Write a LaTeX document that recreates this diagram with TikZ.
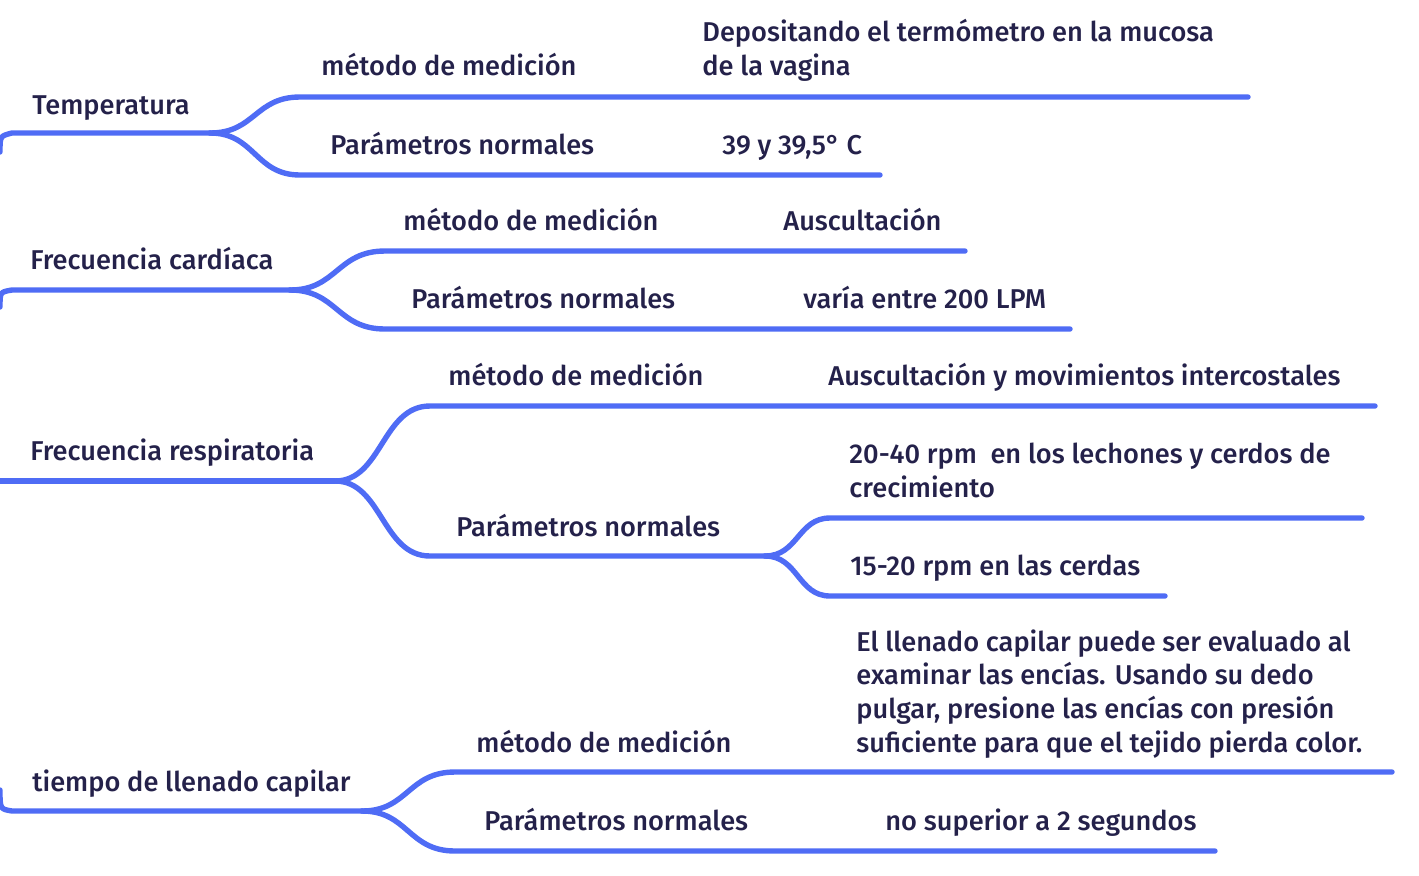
\documentclass[tikz,border=0pt]{standalone}
\usepackage{fontspec}
\setmainfont{Fira Sans}[UprightFont=* Medium]
\definecolor{azulrama}{RGB}{79,108,245}
\definecolor{tinta}{RGB}{36,33,74}

\begin{document}
\begin{tikzpicture}[line cap=round,line join=round,x=0.5pt,y=-0.5pt,
	linea/.style={draw=azulrama,line width=2.7pt},
	texto/.style={anchor=base west,inner sep=0pt,text=tinta,font=\fontsize{13.6}{16.8}\selectfont,align=left}]
		\useasboundingbox (0,0) rectangle (1419,875);
		\coordinate (tempI) at (0,152);
		\coordinate (tempA) at (12,133);
		\coordinate (tempF) at (210,133);
		\coordinate (tempMetA) at (300,97);
		\coordinate (tempMetB) at (590,97);
		\coordinate (tempMetC) at (1248,97);
		\coordinate (tempParA) at (300,175);
		\coordinate (tempParB) at (605,175);
		\coordinate (tempParC) at (880,175);
		\coordinate (fcI) at (0,307);
		\coordinate (fcA) at (12,290);
		\coordinate (fcF) at (290,290);
		\coordinate (fcMetA) at (385,251);
		\coordinate (fcMetB) at (670,251);
		\coordinate (fcMetC) at (965,251);
		\coordinate (fcParA) at (385,329);
		\coordinate (fcParB) at (690,329);
		\coordinate (fcParC) at (1070,329);
		\coordinate (frI) at (0,481);
		\coordinate (frF) at (335,481);
		\coordinate (frMetA) at (430,406);
		\coordinate (frMetB) at (715,406);
		\coordinate (frMetC) at (1375,406);
		\coordinate (frParA) at (430,556);
		\coordinate (frParB) at (765,556);
		\coordinate (frLecA) at (830,518);
		\coordinate (frLecB) at (1362,518);
		\coordinate (frCerA) at (830,596);
		\coordinate (frCerB) at (1165,596);
		\coordinate (tlcI) at (0,790);
		\coordinate (tlcA) at (12,811);
		\coordinate (tlcF) at (362,811);
		\coordinate (tlcMetA) at (455,772);
		\coordinate (tlcMetB) at (740,772);
		\coordinate (tlcMetC) at (1392,772);
		\coordinate (tlcParA) at (455,851);
		\coordinate (tlcParB) at (760,851);
		\coordinate (tlcParC) at (1215,851);
		\draw [linea] (tempI) .. controls (0,136) .. (tempA) -- (tempF);
		\draw [linea] (tempF) .. controls (255,133) and (255,97) .. (tempMetA) -- (tempMetB) -- (tempMetC);
		\draw [linea] (tempF) .. controls (255,133) and (255,175) .. (tempParA) -- (tempParB) -- (tempParC);
		\draw [linea] (fcI) .. controls (0,292) .. (fcA) -- (fcF);
		\draw [linea] (fcF) .. controls (337,290) and (337,251) .. (fcMetA) -- (fcMetB) -- (fcMetC);
		\draw [linea] (fcF) .. controls (337,290) and (337,329) .. (fcParA) -- (fcParB) -- (fcParC);
		\draw [linea] (frI) -- (frF);
		\draw [linea] (frF) .. controls (382,481) and (382,406) .. (frMetA) -- (frMetB) -- (frMetC);
		\draw [linea] (frF) .. controls (382,481) and (382,556) .. (frParA) -- (frParB);
		\draw [linea] (frParB) .. controls (798,556) and (798,518) .. (frLecA) -- (frLecB);
		\draw [linea] (frParB) .. controls (798,556) and (798,596) .. (frCerA) -- (frCerB);
		\draw [linea] (tlcI) .. controls (0,809) .. (tlcA) -- (tlcF);
		\draw [linea] (tlcF) .. controls (408,811) and (408,772) .. (tlcMetA) -- (tlcMetB) -- (tlcMetC);
		\draw [linea] (tlcF) .. controls (408,811) and (408,851) .. (tlcParA) -- (tlcParB) -- (tlcParC);
		\node [texto] (temp) at (32,114) {Temperatura};
		\node [texto] (tempMet) at (321,75) {método de medición};
		\node [texto] (tempPar) at (330,154) {Parámetros normales};
		\node [texto] (tempMetVal) at (702,75) {Depositando el termómetro en la mucosa\\de la vagina};
		\node [texto] (tempParVal) at (722,154) {39 y 39,5° C};
		\node [texto] (fc) at (30,269) {Frecuencia cardíaca};
		\node [texto] (fcMet) at (403,230) {método de medición};
		\node [texto] (fcPar) at (411,308) {Parámetros normales};
		\node [texto] (fcMetVal) at (783,230) {Auscultación};
		\node [texto] (fcParVal) at (803,308) {varía entre 200 LPM};
		\node [texto] (fr) at (30,460) {Frecuencia respiratoria};
		\node [texto] (frMet) at (448,385) {método de medición};
		\node [texto] (frPar) at (456,536) {Parámetros normales};
		\node [texto] (frMetVal) at (828,385) {Auscultación y movimientos intercostales};
		\node [texto] (frLec) at (849,497) {20-40 rpm~ en los lechones y cerdos de\\crecimiento};
		\node [texto] (frCer) at (850,575) {15-20 rpm en las cerdas};
		\node [texto] (tlc) at (32,791) {tiempo de llenado capilar};
		\node [texto] (tlcMet) at (476,752) {método de medición};
		\node [texto] (tlcPar) at (484,830) {Parámetros normales};
		\node [texto] (tlcMetVal) at (856,752) {El llenado capilar puede ser evaluado al\\examinar las encías. Usando su dedo\\pulgar, presione las encías con presión\\suficiente para que el tejido pierda color.};
		\node [texto] (tlcParVal) at (885,830) {no superior a 2 segundos};
	\end{tikzpicture}
\end{document}
